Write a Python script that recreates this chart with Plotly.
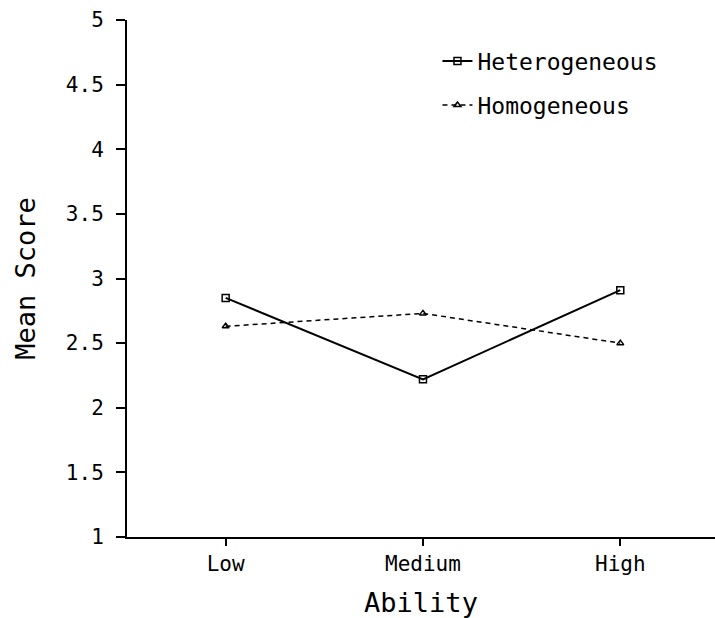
import plotly.graph_objects as go

categories = ["Low", "Medium", "High"]
hetero = [2.85, 2.22, 2.91]
homo = [2.63, 2.73, 2.50]
y_ticks = [1, 1.5, 2, 2.5, 3, 3.5, 4, 4.5, 5]
y_tick_text = ["1", "1.5", "2", "2.5", "3", "3.5", "4", "4.5", "5"]

FONT = "DejaVu Sans Mono"

fig = go.Figure()
fig.add_trace(go.Scatter(
    x=[0, 1, 2], y=hetero, name="Heterogeneous", mode="lines+markers",
    line=dict(color="black", width=2, dash="solid"),
    marker=dict(symbol="square-open", size=7, color="black", line=dict(width=1.5)),
    legendgroup="a",
))
fig.add_trace(go.Scatter(
    x=[0, 1, 2], y=homo, name="Homogeneous", mode="lines+markers",
    line=dict(color="black", width=1.5, dash="5px,4px"),
    marker=dict(symbol="triangle-up-open", size=6, color="black", line=dict(width=1.5)),
    legendgroup="b",
))

fig.update_layout(
    width=715, height=618,
    margin=dict(l=127, r=0, t=20, b=81),
    paper_bgcolor="white", plot_bgcolor="white",
    font=dict(family=FONT, color="black", size=21),
    showlegend=True,
    legend=dict(x=0.528, y=0.962, xanchor="left", yanchor="top",
                bgcolor="rgba(0,0,0,0)", font=dict(size=23, family=FONT),
                tracegroupgap=11, itemwidth=30),
)
fig.update_xaxes(
    range=[-0.5, 2.48], tickvals=[0, 1, 2], ticktext=categories,
    showline=True, linecolor="black", linewidth=2,
    ticks="outside", ticklen=7, tickcolor="black", tickwidth=1.5,
    showgrid=False, zeroline=False,
    tickfont=dict(size=21, family=FONT),
    title=dict(text="Ability", font=dict(size=27, family=FONT), standoff=18),
)
fig.update_yaxes(
    range=[1, 5], tickvals=y_ticks, ticktext=y_tick_text,
    showline=True, linecolor="black", linewidth=2,
    ticks="outside", ticklen=9, tickcolor="black", tickwidth=1.5,
    ticklabelstandoff=8,
    showgrid=False, zeroline=False,
    tickfont=dict(size=21, family=FONT),
    title=dict(text="Mean Score", font=dict(size=27, family=FONT), standoff=22),
)

fig.write_html("out.html")
